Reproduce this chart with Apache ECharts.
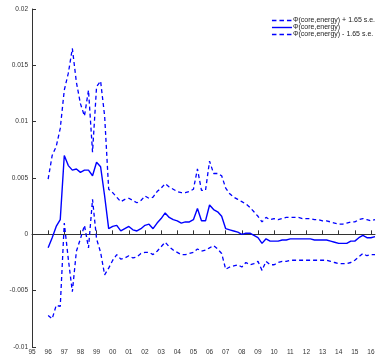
<!DOCTYPE html>
<html>
<head>
<meta charset="utf-8">
<script src="https://cdn.jsdelivr.net/npm/echarts@6/dist/echarts.min.js"></script>
<style>html,body{margin:0;padding:0;background:#fff;}#c{width:389px;height:356px;}</style>
</head>
<body>
<div id="c"></div>
<script>
// Year tick labels (quarterly axis, 1995Q1 .. 2016Q2)
const yearLabels = ["95","96","97","98","99","00","01","02","03","04","05","06","07","08","09","10","11","12","13","14","15","16"];
const lastYearQuarters = 2; // 2016 has Q1, Q2

// Series (quarterly, starting 1995Q1; 1995 has no data)
const upperBand = [null,null,null,null,
  0.0049,0.0070,0.0078,0.0094, 0.0128,0.0143,0.0165,0.0135, 0.0116,0.0105,0.0128,0.0073, 0.0131,0.0136,0.0105,0.0040,
  0.0037,0.0033,0.0029,0.0031, 0.0032,0.0030,0.0028,0.0030, 0.0034,0.0032,0.0033,0.0038, 0.0041,0.0045,0.0042,0.0040,
  0.0038,0.0037,0.0037,0.0038, 0.0040,0.0058,0.0039,0.0039, 0.0065,0.0054,0.0054,0.0052, 0.0041,0.0036,0.0033,0.0031,
  0.0029,0.0027,0.0024,0.0020, 0.0016,0.0011,0.0015,0.0013, 0.0014,0.0013,0.0014,0.0015, 0.0015,0.0015,0.0015,0.0014,
  0.0014,0.0014,0.0013,0.0013, 0.0012,0.0012,0.0011,0.0010, 0.0009,0.0009,0.0010,0.0011, 0.0011,0.0013,0.0014,0.0013,
  0.0012,0.0013];
const central = [null,null,null,null,
  -0.0012,-0.0003,0.0007,0.0013, 0.0070,0.0061,0.0057,0.0058, 0.0055,0.0057,0.0057,0.0052, 0.0064,0.0060,0.0034,0.0005,
  0.0007,0.0008,0.0003,0.0005, 0.0007,0.0004,0.0003,0.0005, 0.0008,0.0009,0.0005,0.0010, 0.0014,0.0019,0.0015,0.0013,
  0.0012,0.0010,0.0011,0.0011, 0.0013,0.0023,0.0012,0.0012, 0.0026,0.0022,0.0020,0.0016, 0.0005,0.0004,0.0003,0.0002,
  0.0000,0.0001,0.0001,-0.0001, -0.0003,-0.0008,-0.0004,-0.0006, -0.0006,-0.0006,-0.0005,-0.0005, -0.0004,-0.0004,-0.0004,-0.0004,
  -0.0004,-0.0004,-0.0005,-0.0005, -0.0005,-0.0005,-0.0006,-0.0007, -0.0008,-0.0008,-0.0008,-0.0006, -0.0006,-0.0003,-0.0001,-0.0003,
  -0.0003,-0.0002];
const lowerBand = [null,null,null,null,
  -0.0072,-0.0075,-0.0063,-0.0064, 0.0010,-0.0022,-0.0051,-0.0015, -0.0004,0.0008,-0.0012,0.0031, -0.0004,-0.0016,-0.0036,-0.0030,
  -0.0023,-0.0018,-0.0022,-0.0021, -0.0019,-0.0021,-0.0020,-0.0017, -0.0016,-0.0016,-0.0018,-0.0015, -0.0011,-0.0007,-0.0011,-0.0014,
  -0.0016,-0.0018,-0.0018,-0.0017, -0.0016,-0.0013,-0.0015,-0.0014, -0.0012,-0.0010,-0.0013,-0.0017, -0.0031,-0.0029,-0.0028,-0.0027,
  -0.0029,-0.0025,-0.0027,-0.0026, -0.0024,-0.0032,-0.0024,-0.0027, -0.0027,-0.0025,-0.0024,-0.0024, -0.0023,-0.0023,-0.0023,-0.0023,
  -0.0023,-0.0023,-0.0023,-0.0023, -0.0023,-0.0023,-0.0024,-0.0025, -0.0026,-0.0026,-0.0026,-0.0025, -0.0023,-0.0020,-0.0017,-0.0019,
  -0.0018,-0.0018];

const seriesNames = ["\u03a6(core,energy) + 1.65 s.e.", "\u03a6(core,energy)", "\u03a6(core,energy) - 1.65 s.e."];

// Build quarterly categories from the year labels
const categories = [];
yearLabels.forEach((y, i) => {
  const nq = (i === yearLabels.length - 1) ? lastYearQuarters : 4;
  for (let q = 1; q <= nq; q++) categories.push(y + "Q" + q);
});

const font = "Liberation Sans, Arial, sans-serif";
const blue = "#0000ff";
const chart = echarts.init(document.getElementById('c'), null, {renderer: 'canvas'});
const dash = [4, 3];
chart.setOption({
  animation: false,
  backgroundColor: '#fff',
  grid: {left: 32, right: 14, top: 9, bottom: 8, containLabel: false},
  legend: {
    orient: 'vertical', right: 9, top: 12, itemGap: 0, itemWidth: 20, itemHeight: 6,
    itemStyle: {color: 'rgba(0,0,0,0)', borderWidth: 0, opacity: 0},
    textStyle: {fontSize: 7, lineHeight: 7, fontFamily: font, color: '#222', padding: [0,0,0,-4]},
    data: [
      {name: seriesNames[0], lineStyle: {type: [4.5, 3], width: 1.3}},
      {name: seriesNames[1], lineStyle: {width: 1.4}},
      {name: seriesNames[2], lineStyle: {type: [4.5, 3], width: 1.3}}
    ]
  },
  xAxis: {
    type: 'category', data: categories, boundaryGap: false,
    axisLine: {lineStyle: {color: '#333', width: 1}},
    axisTick: {inside: true, length: 4, interval: (i) => i % 4 === 0, lineStyle: {color: '#333'}},
    axisLabel: {interval: (i) => i % 4 === 0, formatter: (v) => v.slice(0, 2), fontSize: 6.5, fontFamily: font, color: '#333', margin: 2},
    splitLine: {show: false}
  },
  yAxis: {
    type: 'value', min: -0.01, max: 0.02, interval: 0.005,
    axisLine: {show: true, lineStyle: {color: '#333', width: 1}},
    axisTick: {show: true, inside: true, length: 4, lineStyle: {color: '#333'}},
    axisLabel: {fontSize: 6.5, fontFamily: font, color: '#333', margin: 4,
      formatter: (v) => String(parseFloat(v.toFixed(4)))},
    splitLine: {show: false}
  },
  series: [
    {name: seriesNames[0], type: 'line', data: upperBand, symbol: 'none', connectNulls: false,
     lineStyle: {color: blue, width: 1.3, type: dash}, itemStyle: {color: blue}},
    {name: seriesNames[1], type: 'line', data: central, symbol: 'none',
     lineStyle: {color: blue, width: 1.4}, itemStyle: {color: blue}},
    {name: seriesNames[2], type: 'line', data: lowerBand, symbol: 'none',
     lineStyle: {color: blue, width: 1.3, type: dash}, itemStyle: {color: blue}}
  ]
});
</script>
</body>
</html>
